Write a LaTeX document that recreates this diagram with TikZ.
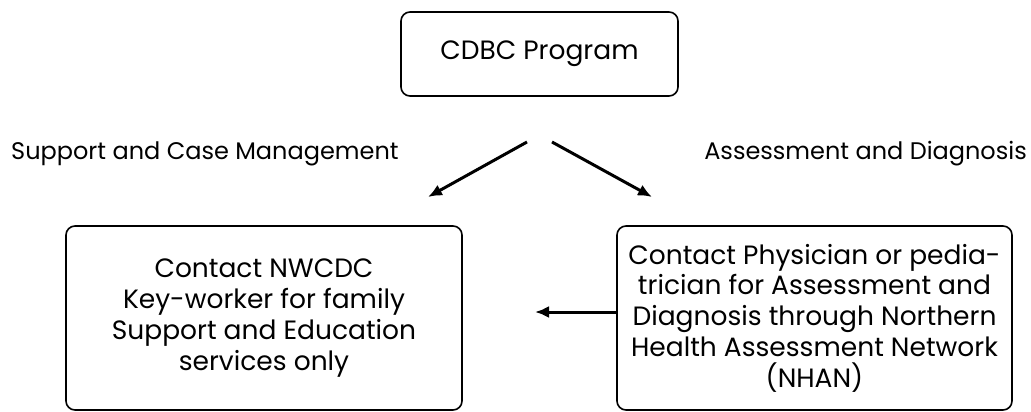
\documentclass[tikz,border=0pt]{standalone}
\usepackage{fontspec}
\setmainfont{Poppins}
\usetikzlibrary{arrows.meta}
\tikzset{
  box/.style={draw=black, line width=1.6pt, rounded corners=9pt, align=center, inner sep=0pt},
  boxtext/.style={font=\fontsize{26.5}{30.8}\selectfont},
  lbl/.style={font=\fontsize{24}{28}\selectfont, inner sep=0pt},
  conn/.style={line width=3pt, -{Latex[length=14pt,width=12pt]}}
}
\begin{document}
\begin{tikzpicture}[x=1pt,y=-1pt]
\useasboundingbox (0,0) rectangle (1031,412);
\node[box, minimum width=277pt, minimum height=84pt, font=\fontsize{26.5}{30}\selectfont] (top) at (539.5,54) {CDBC Program};
\node[box, boxtext, minimum width=396pt, minimum height=184pt] (left) at (264,318)
  {Contact NWCDC\\Key-worker for family\\Support and Education\\services only};
\node[box, boxtext, minimum width=395pt, minimum height=184pt] (right) at (814.5,318)
  {Contact Physician or pedia-\\trician for Assessment and\\Diagnosis through Northern\\Health Assessment Network\\(NHAN)};
\node[lbl, anchor=base west] (lsup) at (11,159) {Support and Case Management};
\node[lbl, anchor=base east] (lass) at (1027,159) {Assessment and Diagnosis};
\coordinate (s1) at (527,142);
\coordinate (e1) at (428,197);
\coordinate (s2) at (552,142);
\coordinate (e2) at (652,197);
\coordinate (e3) at (535,312);
\draw[conn] (s1) -- (e1);
\draw[conn] (s2) -- (e2);
\draw[conn] (right.west |- e3) -- (e3);
\end{tikzpicture}
\end{document}
